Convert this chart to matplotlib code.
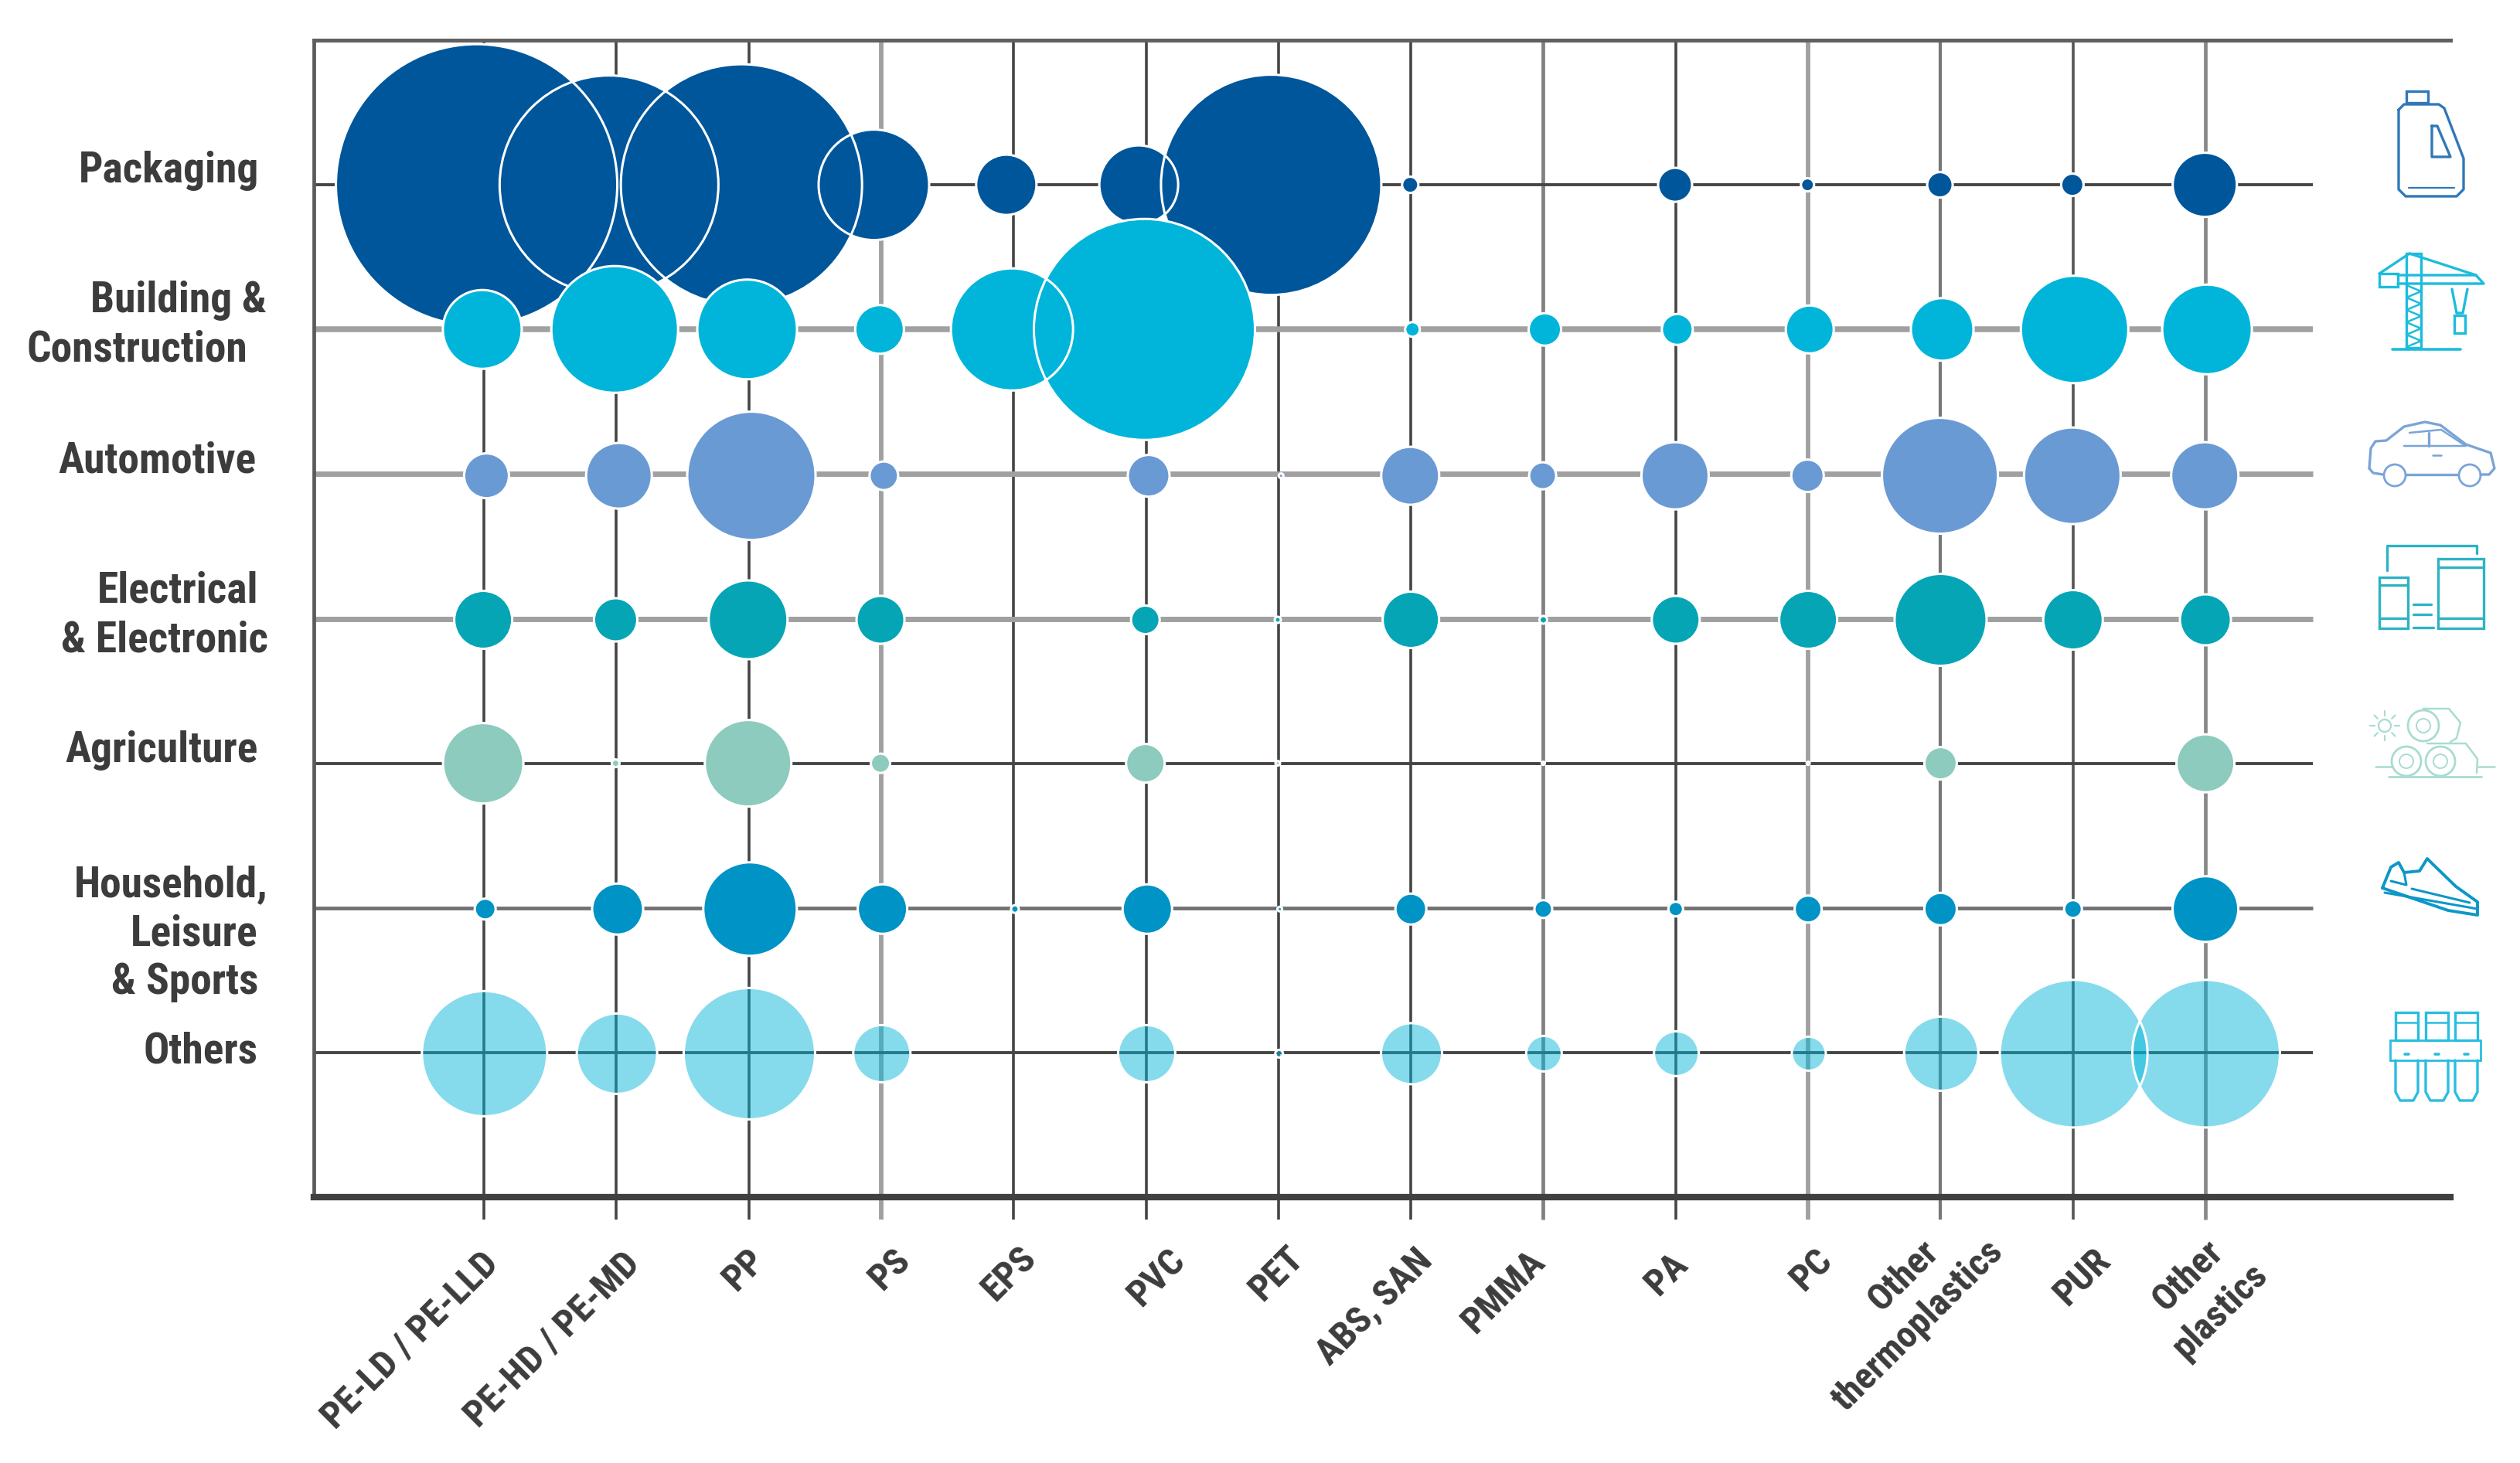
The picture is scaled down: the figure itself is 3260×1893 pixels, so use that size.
import numpy as np
import matplotlib
matplotlib.use("Agg")
import matplotlib.pyplot as plt
from matplotlib import font_manager
from matplotlib.patches import Ellipse, Rectangle

# a condensed face is closest to the original, Roboto is the fallback
font_name = 'Roboto'
for name in ['Roboto Condensed', 'Liberation Sans Narrow', 'Open Sans Condensed', 'Noto Sans Condensed']:
    try:
        font_manager.findfont(name, fallback_to_default=False)
        font_name = name
        break
    except ValueError:
        pass
plt.rcParams['font.family'] = [font_name, 'DejaVu Sans']

plastics = ["PE-LD / PE-LLD", "PE-HD / PE-MD", "PP", "PS", "EPS", "PVC", "PET", "ABS, SAN",
            "PMMA", "PA", "PC", "Other thermoplastics", "PUR", "Other plastics"]
sectors = ["Packaging", "Building & Construction", "Automotive", "Electrical & Electronic",
           "Agriculture", "Household, Leisure & Sports", "Others"]

# bubble diameters per plastic
packaging    = [364, 283, 312, 143, 78, 102, 285, 21, 0, 44, 17, 33, 29, 83]
building     = [102, 164, 129, 63, 158, 286, 0, 19, 42, 40, 62, 81, 139, 116]
automotive   = [58, 85, 166, 37, 0, 54, 6, 75, 35, 87, 42, 150, 125, 87]
electrical   = [75, 56, 102, 62, 0, 37, 8, 73, 10, 62, 75, 119, 77, 66]
agriculture  = [104, 10, 112, 25, 0, 50, 6, 0, 4, 0, 4, 42, 0, 75]
household    = [27, 66, 121, 64, 10, 64, 6, 40, 23, 19, 35, 42, 23, 85]
others       = [162, 104, 170, 74, 0, 74, 10, 79, 46, 58, 44, 96, 191, 191]
rows = [packaging, building, automotive, electrical, agriculture, household, others]

row_colors = ["#00569b", "#00b5d9", "#6a9ad4", "#05a5b5", "#8ccbbe", "#0093c5", (0, 0.71, 0.85, 0.48)]
icon_colors = ["#2f78b8", "#1dbcdc", "#7aa4d8", "#2fb2c4", "#a8dcd0", "#0d97c8", "#29bde0"]

# the bubbles sit a little off the grid in the original: left part, right part of each row
shift_left = [-0.055, -0.012, 0.02, -0.005, -0.005, 0.01, 0.005]
shift_right = [-0.005, 0.012, -0.005, 0, 0, 0, 0.005]
shift_y = [0, 0, 0.012, 0.008, 0, 0.008, 0.008]

DARK = "#454545"
GREY = "#a0a0a0"
v_styles = [(DARK, 2.6), (DARK, 2.6), (DARK, 2.6), (GREY, 4.2), (DARK, 2.6), (DARK, 2.6), (DARK, 2.6),
            (DARK, 2.6), ("#808080", 3.4), (DARK, 2.6), (GREY, 4.2), ("#777777", 3), ("#555555", 2.6), ("#888888", 3.4)]
h_styles = [(DARK, 2.8), (GREY, 5.4), (GREY, 5), (GREY, 5), (DARK, 2.8), ("#707070", 3.4), (DARK, 2.8)]

# pixels -> points at dpi 100
PX = 0.72

fig = plt.figure(figsize=(32.6, 18.93), dpi=100)
ax = fig.add_axes([406 / 3260, 1 - 1549 / 1893, (3170 - 406) / 3260, (1549 - 52) / 1893])
ax.set_xlim(-1.284, 14.85)
ax.set_ylim(7, -1)
ax.set_xticks([])
ax.set_yticks([])
ax.spines['right'].set_visible(False)
ax.spines['left'].set_linewidth(3.4)
ax.spines['left'].set_color("#5a5a5a")
ax.spines['top'].set_linewidth(3.6)
ax.spines['top'].set_color("#606060")
ax.spines['bottom'].set_linewidth(6)
ax.spines['bottom'].set_color("#404040")

for i, (c, w) in enumerate(v_styles):
    ax.plot([i, i], [-1, 7.155], color=c, lw=w, zorder=1, clip_on=False, solid_capstyle='butt')
for j, (c, w) in enumerate(h_styles):
    ax.plot([-1.284, 13.81], [j, j], color=c, lw=w, zorder=1, solid_capstyle='butt')

xs = np.arange(len(plastics))
for j, vals in enumerate(rows):
    sizes = (np.array(vals) * PX) ** 2
    ys = np.full(len(vals), j + shift_y[j])
    xpos = xs + np.where(xs < 7, shift_left[j], shift_right[j])
    ax.scatter(xpos, ys, s=sizes, color=[row_colors[j]], linewidths=0, zorder=2 + j * 2)
    ax.scatter(xpos, ys, s=sizes, facecolors='none', edgecolors='white', linewidths=2.2,
               zorder=3 + j * 2)

over = fig.add_axes([0, 0, 1, 1])
over.set_xlim(0, 3260)
over.set_ylim(1893, 0)
over.axis('off')
over.patch.set_alpha(0)

# y axis labels, line by line since the original is not aligned
label_lines = [("Packaging", 335, 236), ("Building &", 345, 404), ("Construction", 320, 467),
               ("Automotive", 332, 611), ("Electrical", 334, 780), ("& Electronic", 347, 843),
               ("Agriculture", 334, 986), ("Household,", 347, 1160), ("Leisure", 334, 1223),
               ("& Sports", 334, 1286), ("Others", 334, 1375)]
for txt, x, y in label_lines:
    over.text(x, y, txt, ha='right', va='baseline', fontsize=40, fontweight='bold', color="#3c3c3c")

# x labels, also hand placed in the original
tick_lines = [(plastics[0], 638, 1628), (plastics[1], 820, 1628), (plastics[2], 982, 1624),
              (plastics[3], 1170, 1624), (plastics[4], 1333, 1621), (plastics[5], 1526, 1624),
              (plastics[6], 1679, 1621), (plastics[7], 1846, 1624), (plastics[8], 1991, 1626),
              (plastics[9], 2176, 1629), (plastics[10], 2363, 1624),
              ("Other", 2501, 1613), ("thermoplastics", 2584, 1613), (plastics[12], 2723, 1624),
              ("Other", 2869, 1613), ("plastics", 2926, 1643)]
for txt, x, y in tick_lines:
    over.text(x, y, txt, rotation=45, rotation_mode='anchor', ha='right', va='center',
              fontsize=35, fontweight='bold', color="#3c3c3c")


def line(pts, color, lw=2.4, close=False):
    pts = list(pts)
    if close:
        pts = pts + [pts[0]]
    a = np.array(pts, float)
    over.plot(a[:, 0], a[:, 1], color=color, lw=lw, solid_joinstyle='round', solid_capstyle='round')


def box(x0, y0, x1, y1, color, lw=2.4):
    over.add_patch(Rectangle((x0, y0), x1 - x0, y1 - y0, fill=False, ec=color, lw=lw))


def ring(x, y, r, color, lw=2.0, fc='none'):
    over.add_patch(Ellipse((x, y), 2 * r, 2 * r, ec=color, fc=fc, lw=lw, zorder=3))


# jug
c = icon_colors[0]
line([(3103, 142), (3110, 135), (3155, 135), (3162, 140), (3187, 205), (3187, 245), (3178, 254),
      (3112, 254), (3103, 245)], c, close=True)
box(3113, 118, 3141, 133, c)
line([(3146, 163), (3153, 163), (3170, 203), (3146, 203)], c, close=True)
line([(3116, 243), (3175, 243)], c, lw=1.6)

# crane
c = icon_colors[1]
box(3078, 354, 3102, 371, c)
line([(3102, 356), (3203, 356), (3213, 367), (3102, 367)], c)
line([(3078, 354), (3117, 328), (3203, 356)], c)
box(3113, 328, 3132, 450, c)
yy = np.arange(369, 450, 16)
for k in range(len(yy) - 1):
    line([(3113, yy[k]), (3132, yy[k] + 8), (3113, yy[k + 1])], c, lw=1.8)
line([(3095, 452), (3183, 452)], c, lw=2.6)
line([(3172, 374), (3178, 405), (3186, 405), (3192, 374)], c)
box(3175, 408, 3189, 431, c)

# car
c = icon_colors[2]
line([(3065, 606), (3067, 580), (3073, 571), (3087, 570), (3110, 552), (3137, 546), (3157, 550),
      (3190, 575), (3222, 586), (3227, 606), (3220, 614), (3209, 614)], c)
line([(3065, 606), (3070, 612), (3083, 614)], c)
line([(3113, 614), (3180, 614)], c)
ring(3098, 615, 14, c)
ring(3195, 615, 14, c)
line([(3110, 577), (3190, 577), (3158, 556), (3117, 560)], c, lw=1.8)
line([(3142, 560), (3142, 577)], c, lw=2.4)
line([(3147, 589), (3158, 589)], c, lw=1.8)

# devices
c = icon_colors[3]
box(3078, 747, 3115, 813, c)
line([(3078, 757), (3115, 757)], c)
line([(3078, 800), (3115, 800)], c)
box(3154, 723, 3213, 813, c)
line([(3154, 734), (3213, 734)], c)
line([(3154, 800), (3213, 800)], c)
line([(3088, 738), (3088, 706), (3204, 706), (3204, 716)], c)
line([(3122, 782), (3145, 782)], c)
line([(3122, 795), (3145, 795)], c)
line([(3122, 812), (3148, 812)], c)

# hay bales
c = icon_colors[4]
ring(3085, 939, 8, c, lw=1.6)
for a in np.arange(0, 360, 45):
    ca, sa = np.cos(np.radians(a)), np.sin(np.radians(a))
    line([(3085 + 13 * ca, 939 + 13 * sa), (3085 + 19 * ca, 939 + 19 * sa)], c, lw=1.6)
line([(3135, 917), (3168, 917), (3183, 935), (3178, 955), (3170, 960)], c, lw=1.8)
ring(3135, 939, 20, c, fc='white')
line([(3140, 962), (3190, 962), (3205, 982), (3204, 1000)], c, lw=1.8)
ring(3113, 985, 19, c, fc='white')
ring(3157, 985, 19, c, fc='white')
ring(3113, 985, 9, c, lw=1.4)
ring(3157, 985, 9, c, lw=1.4)
ring(3135, 939, 9, c, lw=1.4)
line([(3090, 1005), (3210, 1005)], c, lw=2)
line([(3073, 992), (3094, 992)], c, lw=1.8)
line([(3206, 992), (3227, 992)], c, lw=1.8)

# shoe
c = icon_colors[5]
line([(3082, 1149), (3093, 1122), (3103, 1116), (3110, 1129), (3130, 1127), (3140, 1111), (3147, 1118),
      (3177, 1147), (3205, 1167), (3205, 1184), (3167, 1178)], c, lw=2.8, close=True)
line([(3085, 1155), (3205, 1176)], c, lw=2.2)
line([(3120, 1150), (3195, 1168)], c, lw=2.2)
line([(3093, 1140), (3113, 1145), (3110, 1129)], c, lw=2.2)

# tubes
c = icon_colors[6]
for x0 in (3099, 3138, 3176):
    box(x0, 1310, x0 + 29, 1346, c)
    line([(x0, 1323), (x0 + 29, 1323)], c, lw=1.8)
    line([(x0, 1372), (x0, 1413), (x0 + 6, 1424), (x0 + 23, 1424), (x0 + 29, 1413), (x0 + 29, 1372)], c)
    line([(x0 + 12, 1364), (x0 + 17, 1364)], c, lw=2.6)
box(3092, 1346, 3209, 1372, c, lw=2)

fig.savefig("out.png", dpi=100)
